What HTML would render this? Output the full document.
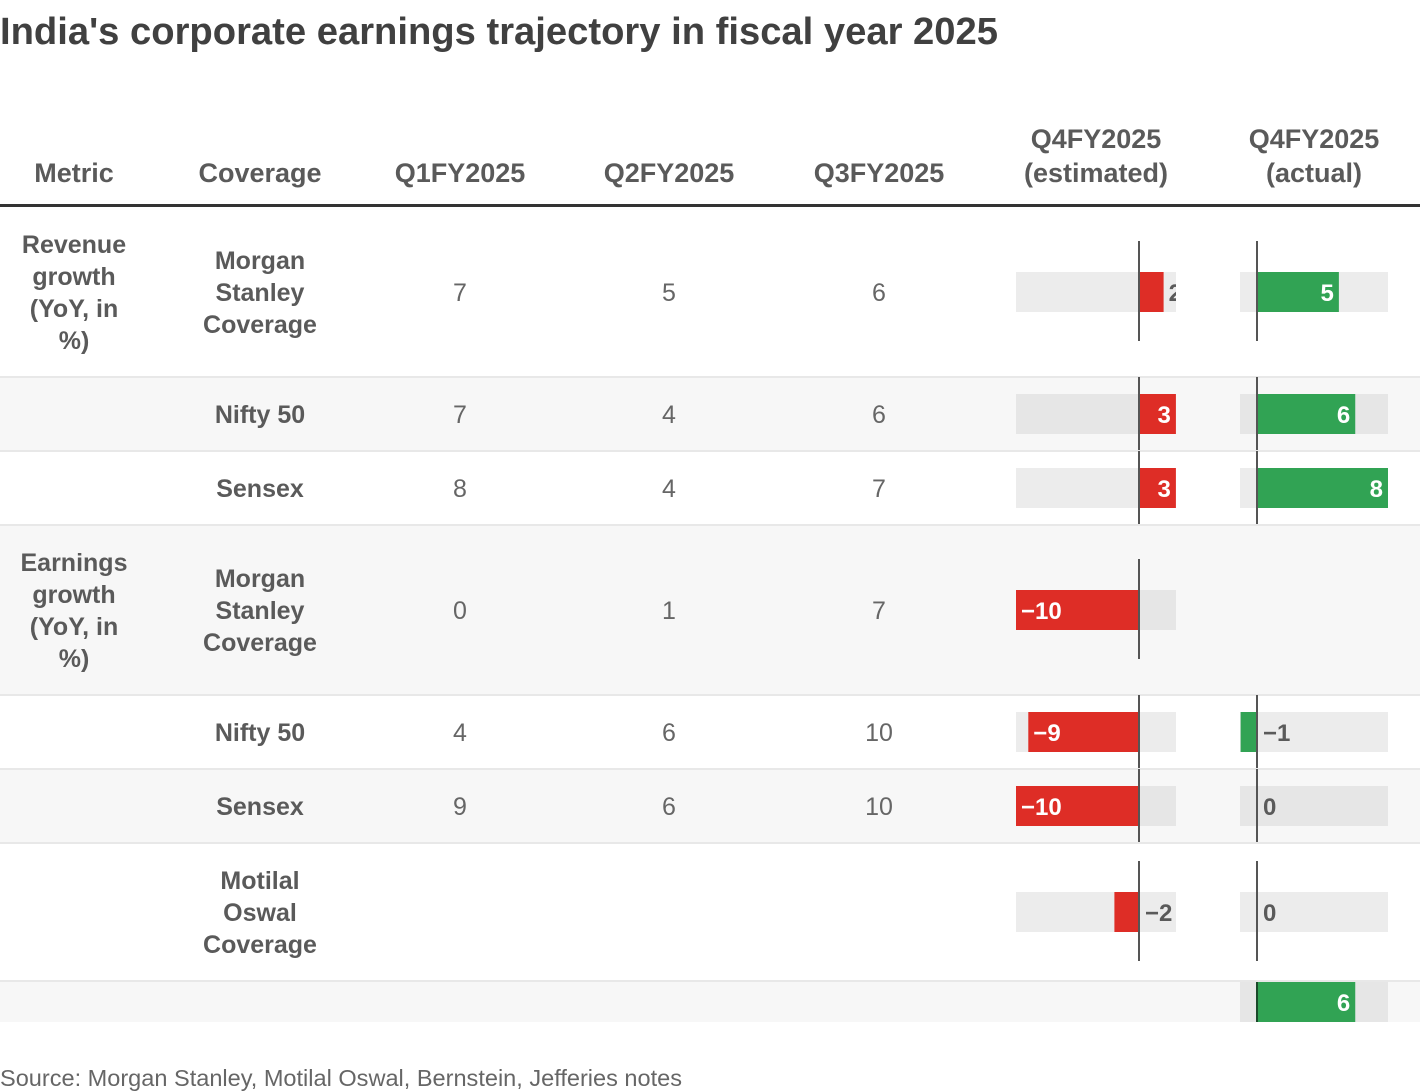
<!DOCTYPE html>
<html><head><meta charset="utf-8"><style>
html,body{margin:0;padding:0;background:#fff;width:1420px;height:1092px;overflow:hidden}
svg{display:block;font-family:"Liberation Sans",sans-serif}
</style></head><body>
<svg id="chart" width="1420" height="1092" viewBox="0 0 1420 1092">
<defs>
<clipPath id="cEst"><rect x="1016" y="0" width="160" height="1092"/></clipPath>
<clipPath id="cAct"><rect x="1240" y="0" width="148" height="1092"/></clipPath>
<clipPath id="cBody"><rect x="0" y="0" width="1420" height="1022"/></clipPath>
</defs>
<text x="0" y="44" font-size="38" font-weight="bold" fill="#404040" textLength="998" lengthAdjust="spacingAndGlyphs">India's corporate earnings trajectory in fiscal year 2025</text>
<g id="header" font-size="27" font-weight="bold" fill="#5a5a5a" text-anchor="middle"></g>
<rect x="0" y="204" width="1420" height="3" fill="#333"/>
<g id="rows" clip-path="url(#cBody)"></g>
<text x="0" y="1086" font-size="23" fill="#666" textLength="682" lengthAdjust="spacingAndGlyphs">Source: Morgan Stanley, Motilal Oswal, Bernstein, Jefferies notes</text>
</svg>
<script>
const metrics = ["Revenue growth (YoY, in %)", "", "", "Earnings growth (YoY, in %)", "", "", "", ""];
const coverage = ["Morgan Stanley Coverage", "Nifty 50", "Sensex", "Morgan Stanley Coverage", "Nifty 50", "Sensex", "Motilal Oswal Coverage", ""];
const q1 = [7, 7, 8, 0, 4, 9, null, null];
const q2 = [5, 4, 4, 1, 6, 6, null, null];
const q3 = [6, 6, 7, 7, 10, 10, null, null];
const q4Est = [2, 3, 3, -10, -9, -10, -2, null];
const q4Act = [5, 6, 8, null, -1, 0, 0, 6];

const NS = "http://www.w3.org/2000/svg";
function mk(tag, attrs, parent) {
  const e = document.createElementNS(NS, tag);
  for (const k in attrs) e.setAttribute(k, attrs[k]);
  parent.appendChild(e);
  return e;
}
const rowTop = [207, 377, 451, 525, 695, 769, 843, 981];
const rowBot = [377, 451, 525, 695, 769, 843, 981, 1030];
const rowBg = ["#fff", "#f7f7f7", "#fff", "#f7f7f7", "#fff", "#f7f7f7", "#fff", "#f7f7f7"];
const colX = {metric: 74, cov: 260, q1: 460, q2: 669, q3: 879, est: 1096, act: 1314};

const estZero = 1139, estUnit = 12.3, estL = 1016, estR = 1176;
const actZero = 1257, actUnit = 16.375, actL = 1240, actR = 1388;
const xEst = v => estZero + v * estUnit;
const xAct = v => actZero + v * actUnit;

const hdr = document.getElementById('header');
[["Metric", colX.metric], ["Coverage", colX.cov], ["Q1FY2025", colX.q1], ["Q2FY2025", colX.q2], ["Q3FY2025", colX.q3]].forEach(([t, x]) => {
  const e = mk('text', {x: x, y: 182}, hdr);
  
  
  e.textContent = t;
});
[["Q4FY2025", "(estimated)", colX.est], ["Q4FY2025", "(actual)", colX.act]].forEach(([a, b, x]) => {
  const e1 = mk('text', {x: x, y: 148}, hdr);
  
  
  e1.textContent = a;
  const e2 = mk('text', {x: x, y: 182}, hdr);
  
  
  e2.textContent = b;
});

function wrapText(parent, lines, x, cy, name) {
  const lh = 32;
  const y0 = cy - (lines.length - 1) * lh / 2 + 9;
  lines.forEach((ln, i) => {
    const t = mk('text', {x: x, y: y0 + i * lh, 'font-size': 25, 'font-weight': 'bold', fill: '#5a5a5a', 'text-anchor': 'middle'}, parent);
    
    
    t.textContent = ln;
  });
}
const metricLines = {"Revenue growth (YoY, in %)": ["Revenue", "growth", "(YoY, in", "%)"], "Earnings growth (YoY, in %)": ["Earnings", "growth", "(YoY, in", "%)"]};
const covLines = {"Morgan Stanley Coverage": ["Morgan", "Stanley", "Coverage"], "Motilal Oswal Coverage": ["Motilal", "Oswal", "Coverage"]};

const rowsG = document.getElementById('rows');
for (let i = 0; i < metrics.length; i++) {
  const g = mk('g', {}, rowsG);
  
  
  const top = rowTop[i], bot = rowBot[i], cy = i === 7 ? 1002 : (top + bot) / 2;
  const bg = mk('rect', {x: 0, y: top, width: 1420, height: bot - top, fill: rowBg[i]}, g);
  
  
  if (i > 0) {
    const sep = mk('rect', {x: 0, y: top - 1, width: 1420, height: 2, fill: '#e8e8e8'}, g);
    
    
  }
  if (metrics[i]) wrapText(g, metricLines[metrics[i]], colX.metric, cy, 'metric-label');
  if (coverage[i]) wrapText(g, covLines[coverage[i]] || [coverage[i]], colX.cov, cy, 'coverage-label');
  [[q1, colX.q1], [q2, colX.q2], [q3, colX.q3]].forEach(([arr, x]) => {
    if (arr[i] === null) return;
    const t = mk('text', {x: x, y: cy + 9, 'font-size': 25, fill: '#666', 'text-anchor': 'middle'}, g);
    
    
    t.textContent = arr[i];
  });
  const tall = (i === 0 || i === 3 || i === 6);
  const axTop = tall ? cy - 51 : top, axBot = tall ? cy + 49 : bot;
  if (q4Est[i] !== null) {
    const v = q4Est[i];
    const eg = mk('g', {'clip-path': 'url(#cEst)'}, g);
    const tr = mk('rect', {x: estL, y: cy - 20, width: estR - estL, height: 40, fill: i % 2 ? '#e6e6e6' : '#ececec'}, eg);
    
    
    const x0 = Math.min(xEst(0), xEst(v)), w = Math.abs(xEst(v) - xEst(0));
    const b = mk('rect', {x: x0, y: cy - 20, width: w, height: 40, fill: '#de2d26'}, eg);
    
    
    const lbl = (v < 0 ? '\u2212' : '') + Math.abs(v);
    const inside = w >= 30;
    let tx, anchor, col;
    if (v >= 0) { if (inside) { tx = xEst(v) - 5; anchor = 'end'; col = '#fff'; } else { tx = xEst(v) + 5; anchor = 'start'; col = '#5a5a5a'; } }
    else { if (inside) { tx = xEst(v) + 5; anchor = 'start'; col = '#fff'; } else { tx = xEst(0) + 6; anchor = 'start'; col = '#5a5a5a'; } }
    const t = mk('text', {x: tx, y: cy + 9, 'font-size': 24, 'font-weight': 'bold', fill: col, 'text-anchor': anchor}, eg);
    
    
    t.textContent = lbl;
    const ax = mk('rect', {x: estZero - 1, y: axTop, width: 2, height: axBot - axTop, fill: '#555'}, g);
    
    
  }
  if (q4Act[i] !== null) {
    const v = q4Act[i];
    const ag = mk('g', {'clip-path': 'url(#cAct)'}, g);
    const tr = mk('rect', {x: actL, y: cy - 20, width: actR - actL, height: 40, fill: i % 2 ? '#e6e6e6' : '#ececec'}, ag);
    
    
    const x0 = Math.min(xAct(0), xAct(v)), w = Math.abs(xAct(v) - xAct(0));
    const b = mk('rect', {x: x0, y: cy - 20, width: w, height: 40, fill: '#31a354'}, ag);
    
    
    const lbl = (v < 0 ? '\u2212' : '') + Math.abs(v);
    const inside = w >= 30;
    let tx, anchor, col;
    if (v > 0 && inside) { tx = xAct(v) - 5; anchor = 'end'; col = '#fff'; }
    else if (v < 0 && inside) { tx = xAct(v) + 5; anchor = 'start'; col = '#fff'; }
    else { tx = xAct(0) + 6; anchor = 'start'; col = '#5a5a5a'; }
    const t = mk('text', {x: tx, y: cy + 9, 'font-size': 24, 'font-weight': 'bold', fill: col, 'text-anchor': anchor}, ag);
    
    
    t.textContent = lbl;
    const ax = mk('rect', {x: actZero - 1, y: i === 7 ? cy - 20 : axTop, width: 2, height: i === 7 ? 40 : axBot - axTop, fill: i === 7 ? '#1a4a2a' : '#555'}, g);
    
    
  }
}
</script>
</body></html>
